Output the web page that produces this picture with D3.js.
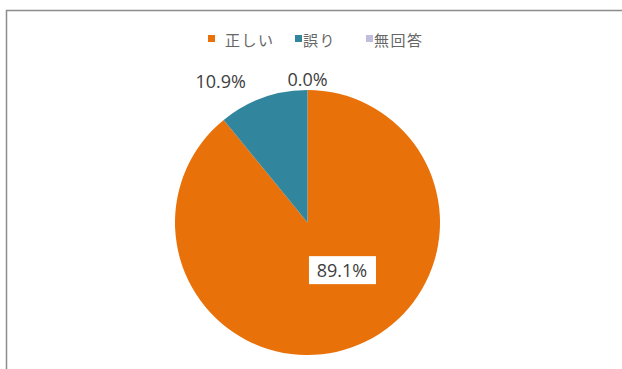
<!DOCTYPE html>
<html>
<head>
<meta charset="utf-8">
<script src="https://d3js.org/d3.v7.min.js"></script>
<style>
  body { margin: 0; background: #fff; font-family: "Noto Sans CJK JP", "Noto Sans", sans-serif; }
</style>
</head>
<body>
<script>
// data
var categories = ["正しい", "誤り", "無回答"];
var values = [89.1, 10.9, 0.0];
var labels = ["89.1%", "10.9%", "0.0%"];
var colors = ["#E8710A", "#31859C", "#BFBFDD"];

var width = 622, height = 369;
var cx = 307.5, cy = 222.5, r = 132.5;

var svg = d3.select("body").append("svg")
  .attr("width", width)
  .attr("height", height);

// chart area border
svg.append("rect")
  .attr("x", 6.5).attr("y", 10.5)
  .attr("width", 640).attr("height", 380)
  .attr("fill", "#fff")
  .attr("stroke", "#8c8c8c")
  .attr("stroke-width", 1.5);

var pie = d3.pie().sort(null).value(function(d) { return d; });
var arcs = pie(values);
var arc = d3.arc().innerRadius(0).outerRadius(r);

var g = svg.append("g").attr("transform", "translate(" + cx + "," + cy + ")");
g.selectAll("path")
  .data(arcs)
  .enter()
  .append("path")
  .attr("d", arc)
  .attr("fill", function(d, i) { return colors[i]; });

// labels: small slices outside, large one inside with white box
var outer = d3.arc().innerRadius(r + 22).outerRadius(r + 22);
var inner = d3.arc().innerRadius(r * 0.55).outerRadius(r * 0.55);
var nudge = [[10, -21], [-35, 4], [0, 11]];

arcs.forEach(function(d, i) {
  var p = i === 0 ? inner.centroid(d) : outer.centroid(d);
  p = [p[0] + nudge[i][0], p[1] + nudge[i][1]];
  var lg = g.append("g").attr("transform", "translate(" + p[0] + "," + p[1] + ")");
  if (i === 0) {
    lg.append("rect")
      .attr("x", -33).attr("y", -14)
      .attr("width", 67).attr("height", 28)
      .attr("fill", "#fff");
  }
  lg.append("text")
    .attr("text-anchor", "middle")
    .attr("dominant-baseline", "central")
    .attr("font-family", "'Open Sans', 'Noto Sans', sans-serif")
    .attr("font-size", 18)
    .attr("fill", "#404040")
    .text(labels[i]);
});

// legend
var legendX = [208, 295, 366];
var legend = svg.append("g");
categories.forEach(function(c, i) {
  legend.append("rect")
    .attr("x", legendX[i]).attr("y", 35)
    .attr("width", 7).attr("height", 7)
    .attr("fill", colors[i]);
  legend.append("text")
    .attr("x", legendX[i] + (i === 0 ? 17 : 8)).attr("y", 39)
    .attr("dominant-baseline", "central")
    .attr("font-size", 15)
    .attr("letter-spacing", 1.5)
    .attr("fill", "#666666")
    .text(c);
});
</script>
</body>
</html>
